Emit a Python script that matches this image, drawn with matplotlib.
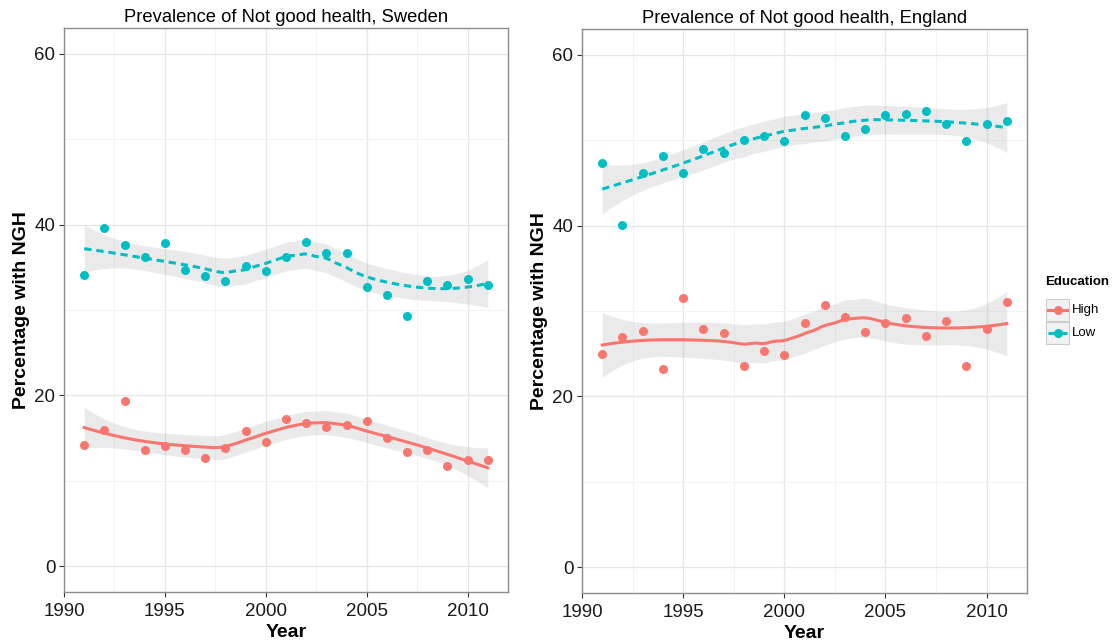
import numpy as np
import matplotlib
matplotlib.use("Agg")
import matplotlib.pyplot as plt
from matplotlib.lines import Line2D
from matplotlib.patches import Rectangle

plt.rcParams['font.family'] = ['Liberation Sans', 'DejaVu Sans']

years = np.arange(1991, 2012)

sweden_high = [14.2, 15.9, 19.4, 13.6, 14.1, 13.6, 12.7, 13.9, 15.8, 14.6, 17.3,
               16.8, 16.3, 16.5, 17.0, 15.0, 13.4, 13.6, 11.8, 12.5, 12.4]
sweden_low = [34.1, 39.6, 37.6, 36.2, 37.8, 34.7, 34.0, 33.4, 35.1, 34.6, 36.2,
              37.9, 36.7, 36.7, 32.7, 31.7, 29.3, 33.4, 32.9, 33.6, 32.9]
england_high = [25.0, 26.9, 27.7, 23.2, 31.5, 27.9, 27.4, 23.6, 25.3, 24.8, 28.6,
                30.7, 29.3, 27.5, 28.6, 29.2, 27.1, 28.8, 23.6, 27.9, 31.0]
england_low = [47.3, 40.1, 46.2, 48.1, 46.1, 49.0, 48.5, 50.0, 50.5, 49.9, 52.9,
               52.6, 50.5, 51.3, 52.9, 53.1, 53.4, 51.9, 49.9, 51.9, 52.2]

groups = ['High', 'Low']
colors = {'High': '#F8766D', 'Low': '#00BFC4'}
dashes = {'High': None, 'Low': (2.4, 1.6)}


def t975(df):
    # Cornish-Fisher expansion of the t quantile
    z = 1.959964
    g1 = (z**3 + z) / 4
    g2 = (5*z**5 + 16*z**3 + 3*z) / 96
    g3 = (3*z**7 + 19*z**5 + 17*z**3 - 15*z) / 384
    return z + g1/df + g2/df**2 + g3/df**3


def loess(x, y, xs, span=0.75):
    x = np.asarray(x, float)
    y = np.asarray(y, float)
    n = len(x)
    q = int(np.floor(n * span))

    def row(x0):
        d = np.abs(x - x0)
        h = np.sort(d)[q - 1]
        w = np.clip(1 - (d / h)**3, 0, None)**3
        X = np.column_stack([np.ones(n), x - x0, (x - x0)**2])
        XtW = X.T * w
        return np.linalg.solve(XtW @ X, XtW)[0]

    L = np.array([row(v) for v in x])
    Ls = np.array([row(v) for v in xs])
    fit = Ls @ y
    resid = y - L @ y
    IL = np.eye(n) - L
    M = IL.T @ IL
    d1 = np.trace(M)
    d2 = np.trace(M @ M)
    sigma = np.sqrt(resid @ resid / d1)
    se = sigma * np.sqrt((Ls**2).sum(axis=1))
    t = t975(d1**2 / d2)
    return fit, fit - t*se, fit + t*se


def panel(ax, data, title):
    xs = np.linspace(years.min(), years.max(), 80)
    for g in groups:
        vals = data[g]
        fit, lo, hi = loess(years, vals, xs)
        ax.fill_between(xs, lo, hi, color='#999999', alpha=0.2, lw=0, zorder=2)
        ax.scatter(years, vals, s=42, color=colors[g], lw=0, zorder=3)
        line, = ax.plot(xs, fit, color=colors[g], lw=2.2, zorder=4)
        if dashes[g]:
            line.set_dashes(dashes[g])
    ax.set_xlim(1990, 2012)
    ax.set_ylim(-3, 63)
    ax.set_xticks([1990, 1995, 2000, 2005, 2010])
    ax.set_xticks([1992.5, 1997.5, 2002.5, 2007.5], minor=True)
    ax.set_yticks([0, 20, 40, 60])
    ax.set_yticks([10, 30, 50], minor=True)
    ax.grid(True, which='major', color='#E6E6E6', lw=0.9, zorder=0)
    ax.grid(True, which='minor', color='#F3F3F3', lw=0.7, zorder=0)
    ax.set_axisbelow(True)
    ax.tick_params(which='major', length=3.8, width=0.8, color='#333333',
                   labelsize=13.5, pad=2.5, labelcolor='#1a1a1a')
    ax.tick_params(axis='x', which='major', pad=4)
    ax.tick_params(which='minor', length=0)
    for s in ax.spines.values():
        s.set_color('#8C8C8C')
        s.set_linewidth(1.0)
    ax.set_title(title, fontsize=13.2, pad=4)
    ax.set_xlabel('Year', fontsize=14, fontweight='bold', labelpad=3)
    ax.set_ylabel('Percentage with NGH', fontsize=14, fontweight='bold', labelpad=3)


W, H = 1112, 643
fig = plt.figure(figsize=(W/100, H/100), dpi=100)

ax1 = fig.add_axes([64/W, 1 - 592/H, 444/W, (592 - 28)/H])
panel(ax1, {'High': sweden_high, 'Low': sweden_low},
      'Prevalence of Not good health, Sweden')

ax2 = fig.add_axes([582/W, 1 - 593/H, 445/W, (593 - 29)/H])
panel(ax2, {'High': england_high, 'Low': england_low},
      'Prevalence of Not good health, England')

# legend for education level
lax = fig.add_axes([0, 0, 1, 1], facecolor='none')
lax.set_xlim(0, W)
lax.set_ylim(H, 0)
lax.axis('off')
lax.text(1045, 282, 'Education', fontsize=9.5, fontweight='bold', va='center', ha='left')
for i, g in enumerate(groups):
    cy = 310 + i * 23
    lax.add_patch(Rectangle((1046, cy - 11), 23, 22, facecolor='#F2F2F2',
                            edgecolor='#CCCCCC', lw=0.8))
    ln = Line2D([1048, 1067], [cy, cy], color=colors[g], lw=2.2)
    if dashes[g]:
        ln.set_dashes(dashes[g])
    lax.add_line(ln)
    lax.plot([1057.5], [cy], 'o', color=colors[g], ms=6.5, mew=0)
    lax.text(1072, cy, g, fontsize=9.5, va='center', ha='left')

fig.savefig('out.png', dpi=100)
